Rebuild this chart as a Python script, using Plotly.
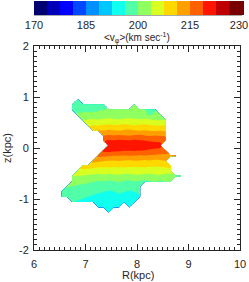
import plotly.graph_objects as go

# ---- data (bin centres, kpc) ----
R_BINS = [6.45, 6.55, 6.65, 6.75, 6.85, 6.95, 7.05, 7.15, 7.25, 7.35, 7.45, 7.55, 7.65,
          7.75, 7.85, 7.95, 8.05, 8.15, 8.25, 8.35, 8.45, 8.55, 8.65, 8.75, 8.85, 8.95]
Z_BINS = [1.05, 0.95, 0.85, 0.75, 0.65, 0.55, 0.45, 0.35, 0.25, 0.15, 0.05, -0.05, -0.15,
          -0.25, -0.35, -0.45, -0.55, -0.65, -0.75, -0.85, -0.95, -1.05, -1.15, -1.25, -1.35]
N = None
# each row: (first R-bin index with data, mean v_phi values in km/s); empty rows have no data
VPHI_ROWS = [
    (0, []),
    (4, [197.8]),
    (3, [197.9, 198.0, 198.4, 198.8, 198.5, 198.9, 199.2, N, N, N, N, N, 200.8]),
    (3, [198.6, 198.9, 199.2, 199.0, 199.3, 199.6, 199.9, 200.4, 200.6, 200.5, 200.8, 200.6,
         201.0, 200.7, 200.4, 198.6, 199.6]),
    (4, [200.6, 200.9, 201.2, 201.0, 201.4, 201.3, 201.6, 201.2, 201.5, 201.8, 201.3, 201.6,
         201.2, 200.9, 199.6, 200.6, 200.9]),
    (5, [203.6, 204.0, 204.3, 204.0, 204.5, 204.8, 204.4, 204.1, 204.6, 205.0, 204.4, 204.2,
         204.6, 204.1, 203.8, 203.6, 203.9]),
    (6, [207.0, 207.4, 207.2, 207.7, 208.0, 207.5, 207.8, 208.2, 207.6, 207.3, 207.8, 208.0,
         207.5, 207.2, 207.0, 207.3]),
    (7, [210.8, 211.2, 211.0, 211.5, 211.2, 210.9, 211.4, 211.7, 211.1, 210.8, 211.3, 210.9,
         210.6, 210.8, 210.5]),
    (9, [214.6, 215.2, 214.9, 215.3, 215.0, 214.7, 215.1, 215.4, 214.9, 214.5, 214.8, 214.4,
         214.2]),
    (9, [218.4, 219.0, 218.8, 219.3, 219.0, 218.7, 219.2, 218.9, 218.6, 218.3, 218.1, 217.9,
         217.5]),
    (10, [221.0, 221.4, 221.2, 220.9, 221.3, 221.1, 220.7, 220.8, 220.4, 220.2, 219.9]),
    (9, [219.8, 220.1, 219.7, 219.3, 219.0, 218.9, 219.1, 218.8, 218.6, 218.2, 218.0, 217.4,
         217.0]),
    (8, [216.0, 215.6, 215.4, 215.1, 215.0, 214.8, 215.1, 214.9, 214.6, 214.8, 214.5, 214.3,
         214.0, 213.8, 214.6, 215.3]),
    (7, [212.4, 211.9, 211.5, 211.2, 211.0, 211.4, 211.1, 210.8, 211.2, 211.0, 210.7, 211.0,
         210.6, 210.9, 211.3]),
    (5, [209.8, 209.4, 209.0, 208.6, 208.2, 208.5, 208.0, 208.3, 208.6, 208.1, 207.8, 208.3,
         208.5, 208.0, 207.7, 208.2, 208.6, 208.9]),
    (4, [206.8, 206.3, 206.0, 205.8, 205.4, 205.7, 205.3, 205.8, 205.5, 205.1, 205.6, 205.9,
         205.4, 205.0, 205.5, 205.8, 205.3, 205.0, 205.4]),
    (3, [204.0, 203.6, 203.4, 203.0, 202.8, 202.5, 202.9, 202.4, 202.8, 203.1, 202.6, 202.3,
         202.8, 203.2, 202.7, 202.4, 202.9, 203.3, 202.8, 202.5, 202.9, 203.2]),
    (3, [201.6, 201.2, 201.0, 200.6, 200.3, 199.8, 200.2, 199.6, 200.0, 200.4, 199.8, 199.5,
         200.1, 199.7, 199.4, 199.9, 200.3, 199.8, 200.2, 200.5]),
    (2, [200.3, 200.0, 199.6, 199.4, 199.0, 198.6, 198.2, 198.5, 198.0, 197.8, 198.3, 198.6,
         198.1, 197.7, 198.2]),
    (1, [199.0, 198.8, 198.5, 198.2, 197.9, 197.6, 197.2, 196.8, 196.4, 196.0, 196.3, 196.8,
         196.5, 196.0, 196.4, 196.9]),
    (1, [197.6, 197.2, 197.0, 196.8, 196.6, 196.3, 195.9, 195.4, 195.0, 194.8, 195.2, 195.5,
         195.0, 194.8, 195.3, 195.8]),
    (3, [196.4, 196.1, 195.8, 195.4, 194.9, 194.6, 194.2, 194.0, 194.4, 194.7, 194.3, 194.0,
         194.5]),
    (8, [194.0, 193.6, 193.4, 193.7, 194.0, N, 193.8]),
    (10, [193.5]),
    (0, []),
]
CBAR_TICKS = [170, 185, 200, 215, 230]
CBAR_TICKTEXT = ["170", "185", "200", "215", "230\u00a0\u00a0"]
LEVEL_START, LEVEL_END, LEVEL_STEP = 170, 230, 3.75
BAND_COLORS = ["#000070", "#0000b8", "#0000ff", "#0048ff", "#0090ff", "#00c8ff",
               "#10ffef", "#50ffa8", "#90ff60", "#d8ff20", "#ffd800", "#ffa000",
               "#ff6000", "#ff1400", "#c00000", "#780000"]

# ---- build grid for the contour trace ----
ncol = len(R_BINS)
grid = []
for start, vals in VPHI_ROWS:
    row = [None] * start + list(vals)
    row += [None] * (ncol - len(row))
    grid.append(row)

nb = len(BAND_COLORS)
cscale = []
for k, c in enumerate(BAND_COLORS):
    lo = 0.0 if k == 0 else (k + 0.5) / nb
    hi = min(1.0, (k + 1.5) / nb)
    cscale.append([lo, c])
    cscale.append([hi, c])

# pixel helpers for layout (plot area: x 34..240, y 46..250)
PW, PH = 206.0, 204.0
def px_x(px):
    return (px - 34) / PW
def px_y(py):
    return (250 - py) / PH

ink = "#262626"
FONT = "Liberation Sans"
fig = go.Figure(go.Contour(
    x=R_BINS, y=Z_BINS, z=grid,
    connectgaps=False,
    zmin=LEVEL_START, zmax=LEVEL_END,
    contours=dict(start=LEVEL_START, end=LEVEL_END, size=LEVEL_STEP,
                  coloring="fill", showlines=False),
    line=dict(width=0),
    colorscale=cscale,
    colorbar=dict(orientation="h", x=0, xanchor="left", xref="paper",
                  lenmode="pixels", len=208, y=1 - 1 / 282, yref="container",
                  yanchor="top", thickness=14, xpad=0, ypad=0, outlinewidth=0,
                  tickvals=CBAR_TICKS, ticktext=CBAR_TICKTEXT, ticks="",
                  ticklabeloverflow="allow",
                  tickfont=dict(size=11, color=ink, family=FONT)),
    hoverinfo="skip",
))

axis_common = dict(showgrid=False, zeroline=False, showline=True, linecolor=ink, linewidth=1,
                   ticks="inside", ticklen=6, tickcolor=ink, mirror="allticks",
                   tickfont=dict(size=11, color=ink, family=FONT),
                   minor=dict(ticks="inside", ticklen=3, dtick=0.1, tickcolor=ink, showgrid=False))
fig.update_xaxes(range=[6, 10], tickvals=[6, 7, 8, 9, 10], ticktext=["6", "7", "8", "9", "10"],
                 ticklabelstandoff=4, **axis_common)
fig.update_yaxes(range=[-2, 2], tickvals=[-2, -1, 0, 1, 2], ticktext=["-2", "-1", "0", "1", "2"],
                 ticklabelstandoff=2, **axis_common)

fig.update_layout(
    width=249, height=282,
    margin=dict(l=34, r=9, t=46, b=32, autoexpand=False),
    paper_bgcolor="white", plot_bgcolor="white",
    font=dict(family=FONT, size=11, color=ink),
    showlegend=False,
    shapes=[dict(type="line", xref="paper", yref="paper", x0=px_x(34), x1=px_x(242),
                 y0=px_y(15), y1=px_y(15), line=dict(color="#555555", width=1))],
    annotations=[
        dict(text="&lt;v<sub>φ</sub>&gt;(km sec<sup>-1</sup>)", x=px_x(137), y=px_y(38),
             xref="paper", yref="paper", xanchor="center", yanchor="middle",
             showarrow=False, font=dict(size=10, color=ink, family=FONT)),
        dict(text="R(kpc)", x=px_x(138), y=px_y(275), xref="paper", yref="paper",
             xanchor="center", yanchor="middle",
             showarrow=False, font=dict(size=11, color=ink, family=FONT)),
        dict(text="z(kpc)", x=px_x(7), y=px_y(148), xref="paper", yref="paper",
             xanchor="center", yanchor="middle",
             showarrow=False, textangle=-90, font=dict(size=11, color=ink, family=FONT)),
    ],
)

fig.write_html("out.html", config={"displayModeBar": False},
               post_script="document.body.style.margin='0';document.body.style.overflow='hidden';")
